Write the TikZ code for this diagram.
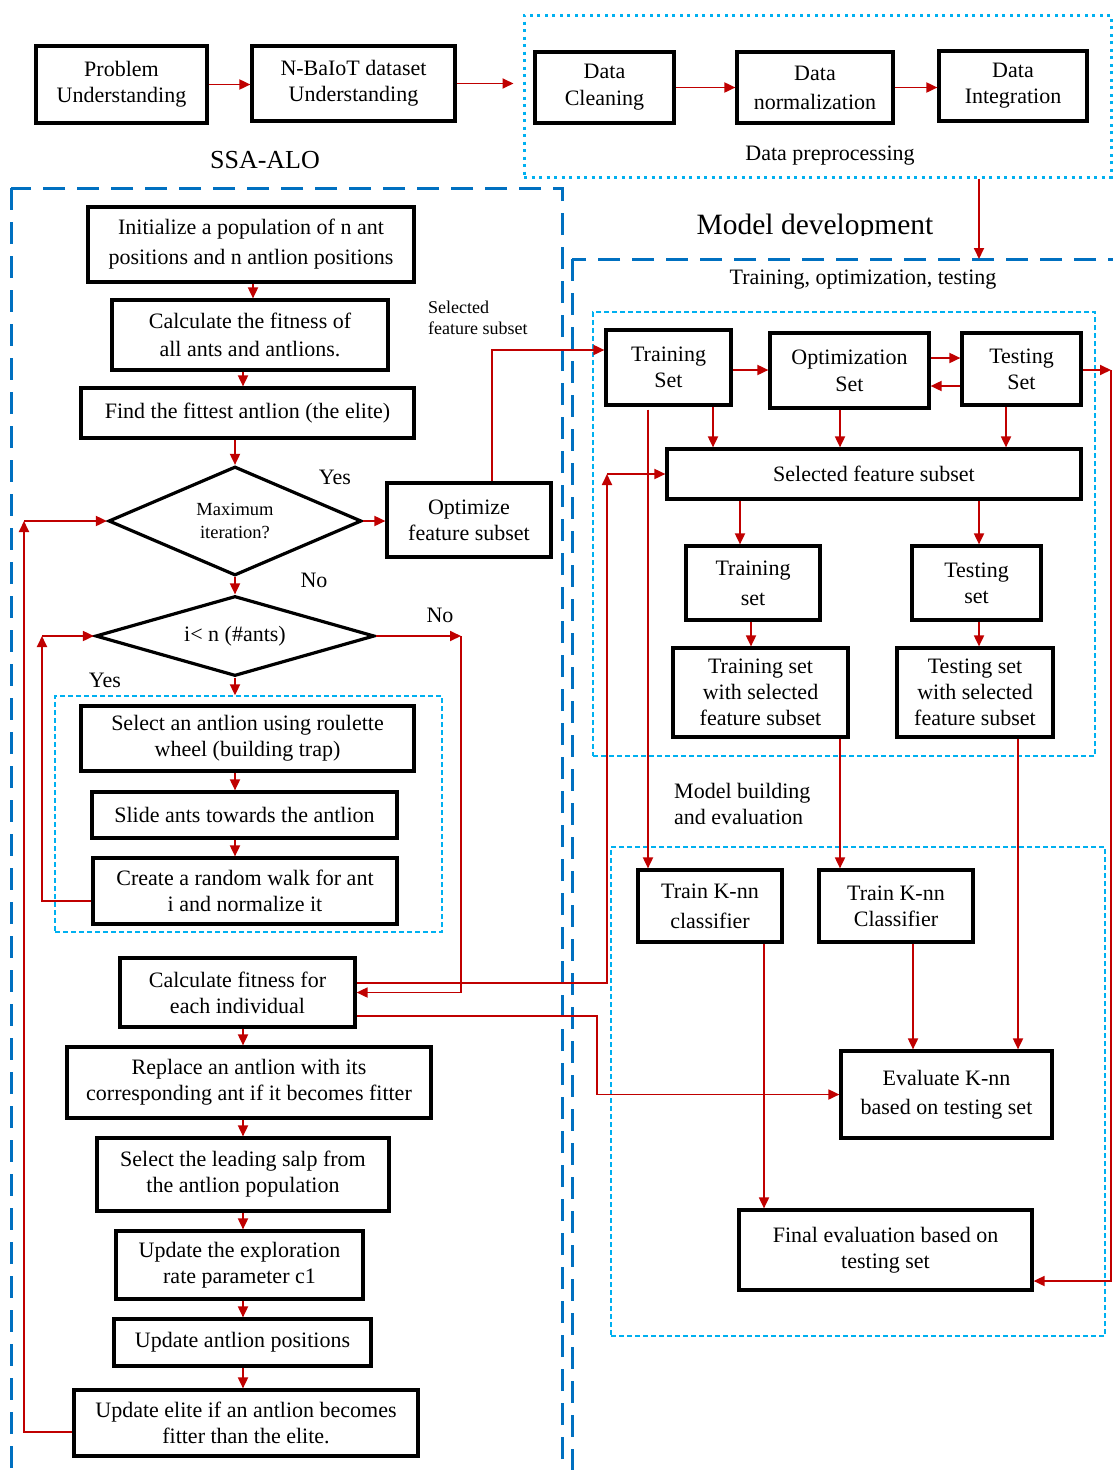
\documentclass[tikz,border=0pt]{standalone}
\usepackage{fontspec}
\setmainfont{Liberation Serif}
\usetikzlibrary{arrows.meta,shapes.geometric}
\definecolor{arrred}{HTML}{C00000}
\definecolor{dblue}{HTML}{0070C0}
\definecolor{lblue}{HTML}{00B0F0}
\newcommand\fmain{\fontsize{22}{26}\selectfont}
\newcommand\fsmall{\fontsize{18.5}{23}\selectfont}
\newcommand\flabel{\fontsize{18}{21}\selectfont}
\newcommand\fbig{\fontsize{26}{30}\selectfont}
\newcommand\fhuge{\fontsize{29.5}{34}\selectfont}
\tikzset{
  bx/.style={draw=black, line width=3.2pt, align=center, inner sep=1pt, font=\fmain},
  dia/.style={diamond, draw=black, line width=3.2pt, align=center, inner sep=0pt},
  arr/.style={draw=arrred, line width=1.8pt, -{Triangle[length=11pt,width=10pt]}},
  bigdash/.style={draw=dblue, line width=3pt, dash pattern=on 22pt off 12pt},
  thindash/.style={draw=lblue, line width=1.3pt, dash pattern=on 5pt off 3pt},
  dotbox/.style={draw=lblue, line width=3pt, dash pattern=on 3pt off 4.5pt},
  lbl/.style={font=\fmain, inner sep=0pt}
}
\begin{document}
\begin{tikzpicture}[x=1pt,y=-1pt]
\clip (0,0) rectangle (1113,1470);
\fill[white] (0,0) rectangle (1113,1470);

% containers
\draw[bigdash] (11,188) rectangle (562,1500);
\draw[bigdash] (572,259) rectangle (1140,1500);
\node[dotbox, minimum width=587pt, minimum height=162pt, inner sep=0pt] (prep) at (817.5,96) {};
\node[thindash, minimum width=387pt, minimum height=236pt, inner sep=0pt] (inner) at (248.5,814) {};
\node[thindash, minimum width=502pt, minimum height=444pt, inner sep=0pt] (tbox) at (844,534) {};
\node[thindash, minimum width=494pt, minimum height=489pt, inner sep=0pt] (mbox) at (858,1091.5) {};

% titles and labels
\node[font=\fbig, inner sep=0pt] (ssa) at (265,160) {SSA-ALO};
\begin{scope}
\clip (600,180) rectangle (1050,235);
\node[font=\fhuge, anchor=base, inner sep=0pt] (mdl) at (815,234) {Model development};
\end{scope}
\node[lbl] (dpl) at (830,156) {Data preprocessing};
\node[lbl] (tot) at (863,280) {Training, optimization, testing};
\node[font=\flabel, align=left, anchor=west, inner sep=0pt] (sfl) at (428,318) {Selected\\feature subset};
\node[lbl, align=left, anchor=west] (mbe) at (674,804) {Model building\\and evaluation};
\node[lbl] (yes1) at (335,477) {Yes};
\node[lbl] (no1) at (314,580) {No};
\node[lbl] (no2) at (440,615) {No};
\node[lbl] (yes2) at (105,680) {Yes};

% top row
\node[bx, minimum width=171pt, minimum height=77pt] (prob) at (121.5,84.5) {Problem\\Understanding};
\node[bx, minimum width=203pt, minimum height=75pt] (nbiot) at (353.5,83.5) {N-BaIoT dataset\\Understanding};
\node[bx, minimum width=139pt, minimum height=71pt] (clean) at (604.5,87.5) {Data\\[1pt]Cleaning};
\node[bx, minimum width=156pt, minimum height=71pt] (norm) at (815,87.5) {Data\\[3pt]normalization};
\node[bx, minimum width=148pt, minimum height=70pt] (integ) at (1013,86) {Data\\Integration};

% left column
\node[bx, minimum width=326pt, minimum height=75pt] (init) at (251,244.5) {Initialize a population of n ant\\[4pt]positions and n antlion positions};
\node[bx, minimum width=276pt, minimum height=70pt] (calc) at (250,335) {Calculate the fitness of\\[2pt]all ants and antlions.};
\node[bx, minimum width=333pt, minimum height=50pt] (find) at (247.5,413) {Find the fittest antlion (the elite)};
\node[dia, minimum width=253pt, minimum height=109pt, aspect=2.32, font=\fsmall] (d1) at (235,521) {Maximum\\iteration?};
\node[bx, minimum width=164pt, minimum height=74pt] (opt) at (469,520) {Optimize\\feature subset};
\node[dia, minimum width=279pt, minimum height=80pt, aspect=3.49, font=\fmain] (d2) at (235,636) {i< n (\#ants)};
\node[bx, minimum width=333pt, minimum height=65pt] (selant) at (247.5,738.5) {Select an antlion using roulette\\wheel (building trap)};
\node[bx, minimum width=305pt, minimum height=46pt] (slide) at (244.5,815) {Slide ants towards the antlion};
\node[bx, minimum width=304pt, minimum height=66pt] (create) at (245,891) {Create a random walk for ant\\i and normalize it};
\node[bx, minimum width=235pt, minimum height=69pt] (calcfit) at (237.5,992.5) {Calculate fitness for\\each individual};
\node[bx, minimum width=364pt, minimum height=71pt] (replace) at (249,1082.5) {Replace an antlion with its\\corresponding ant if it becomes fitter};
\node[bx, minimum width=292pt, minimum height=73pt] (lead) at (243,1174.5) {Select the leading salp from\\the antlion population};
\node[bx, minimum width=247pt, minimum height=68pt] (explor) at (239.5,1265) {Update the exploration\\rate parameter c1};
\node[bx, minimum width=257pt, minimum height=47pt] (updpos) at (242.5,1342.5) {Update antlion positions};
\node[bx, minimum width=344pt, minimum height=66pt] (elite) at (246,1423) {Update elite if an antlion becomes\\fitter than the elite.};

% right column
\node[bx, minimum width=125pt, minimum height=75pt] (trainset) at (668.5,367.5) {Training\\Set};
\node[bx, minimum width=159pt, minimum height=75pt] (optset) at (849.5,370.5) {Optimization\\[1pt]Set};
\node[bx, minimum width=119pt, minimum height=72pt] (testset) at (1021.5,369) {Testing\\Set};
\node[bx, minimum width=414pt, minimum height=50pt] (selfeat) at (874,474) {Selected feature subset};
\node[bx, minimum width=134pt, minimum height=74pt] (trset) at (753,583) {Training\\[4pt]set};
\node[bx, minimum width=129pt, minimum height=74pt] (teset) at (976.5,583) {Testing\\set};
\node[bx, minimum width=175pt, minimum height=89pt] (trsel) at (760.5,692.5) {Training set\\with selected\\feature subset};
\node[bx, minimum width=156pt, minimum height=89pt] (tesel) at (975,692.5) {Testing set\\with selected\\feature subset};
\node[bx, minimum width=144pt, minimum height=72pt] (tk1) at (710,906) {Train K-nn\\[4pt]classifier};
\node[bx, minimum width=154pt, minimum height=72pt] (tk2) at (896,906) {Train K-nn\\Classifier};
\node[bx, minimum width=211pt, minimum height=87pt] (eval) at (946.5,1094.5) {Evaluate K-nn\\[3pt]based on testing set};
\node[bx, minimum width=293pt, minimum height=80pt] (final) at (885.5,1250) {Final evaluation based on\\testing set};

% helper coordinates
\coordinate (xa) at (253,0);
\coordinate (xb) at (243,0);
\coordinate (xc) at (235,0);
\coordinate (xo) at (492,0);
\coordinate (yo) at (0,350);
\coordinate (xn) at (461,0);
\coordinate (xl) at (42,0);
\coordinate (yl) at (0,901);
\coordinate (xs1) at (607,0);
\coordinate (ys1) at (0,983);
\coordinate (xs2) at (597,0);
\coordinate (ys2) at (0,1016);
\coordinate (xe) at (24,0);
\coordinate (ye) at (0,1432);
\coordinate (ya) at (0,370);
\coordinate (yb) at (0,358);
\coordinate (yc) at (0,386);
\coordinate (x1) at (713,0);
\coordinate (x2) at (840,0);
\coordinate (x3) at (1006,0);
\coordinate (x4) at (740,0);
\coordinate (x5) at (979,0);
\coordinate (x6) at (751,0);
\coordinate (x7) at (648,0);
\coordinate (x8) at (1018,0);
\coordinate (x9) at (913,0);
\coordinate (x10) at (764,0);
\coordinate (xr) at (1111,0);
\coordinate (yf) at (0,1281);
\coordinate (mdtop) at (979,259);

% top connectors
\draw[arr] (prob.east) -- (prob.east -| nbiot.west);
\draw[arr, shorten >=9pt] (nbiot.east) -- (nbiot.east -| prep.west);
\draw[arr] (clean.east) -- (clean.east -| norm.west);
\draw[arr] (norm.east) -- (norm.east -| integ.west);
\draw[arr] (prep.south -| mdtop) -- (mdtop);

% left connectors
\draw[arr] (init.south -| xa) -- (calc.north -| xa);
\draw[arr] (calc.south -| xb) -- (find.north -| xb);
\draw[arr] (find.south -| d1.north) -- (d1.north);
\draw[arr] (d1.east) -- (d1.east -| opt.west);
\draw[arr] (opt.north -| xo) |- (trainset.west |- yo);
\draw[arr] (d1.south) -- (d2.north);
\draw[arr] (d2.east) -- (d2.east -| xn);
\draw[arr] (d2.east -| xn) |- (calcfit.east);
\draw[arr] (d2.south) -- (d2.south |- inner.north);
\draw[arr] (selant.south -| xc) -- (slide.north -| xc);
\draw[arr] (slide.south -| xc) -- (create.north -| xc);
\draw[arr] (create.west |- yl) -| (xl |- d2.west);
\draw[arr] (xl |- d2.west) -- (d2.west);
\draw[arr] (calcfit.east |- ys1) -| (xs1 |- selfeat.west);
\draw[arr] (xs1 |- selfeat.west) -- (selfeat.west);
\draw[arr] (calcfit.east |- ys2) -| (xs2 |- eval.west) -- (eval.west);
\draw[arr] (calcfit.south -| xb) -- (replace.north -| xb);
\draw[arr] (replace.south -| xb) -- (lead.north -| xb);
\draw[arr] (lead.south -| xb) -- (explor.north -| xb);
\draw[arr] (explor.south -| xb) -- (updpos.north -| xb);
\draw[arr] (updpos.south -| xb) -- (elite.north -| xb);
\draw[arr] (elite.west |- ye) -| (xe |- d1.west);
\draw[arr] (xe |- d1.west) -- (d1.west);

% right connectors
\draw[arr] (trainset.east |- ya) -- (optset.west |- ya);
\draw[arr] (optset.east |- yb) -- (testset.west |- yb);
\draw[arr] (testset.west |- yc) -- (optset.east |- yc);
\draw[arr] (trainset.south -| x1) -- (selfeat.north -| x1);
\draw[arr] (optset.south -| x2) -- (selfeat.north -| x2);
\draw[arr] (testset.south -| x3) -- (selfeat.north -| x3);
\draw[arr] (selfeat.south -| x4) -- (trset.north -| x4);
\draw[arr] (selfeat.south -| x5) -- (teset.north -| x5);
\draw[arr] (trset.south -| x6) -- (trsel.north -| x6);
\draw[arr] (teset.south -| x5) -- (tesel.north -| x5);
\draw[arr, shorten <=3pt] (trainset.south -| x7) -- (tk1.north -| x7);
\draw[arr] (trsel.south -| x2) -- (tk2.north -| x2);
\draw[arr] (tesel.south -| x8) -- (eval.north -| x8);
\draw[arr] (tk2.south -| x9) -- (eval.north -| x9);
\draw[arr] (tk1.south -| x10) -- (final.north -| x10);
\draw[arr] (testset.east |- ya) -- (xr |- ya);
\draw[arr] (xr |- ya) |- (final.east |- yf);
\end{tikzpicture}
\end{document}
